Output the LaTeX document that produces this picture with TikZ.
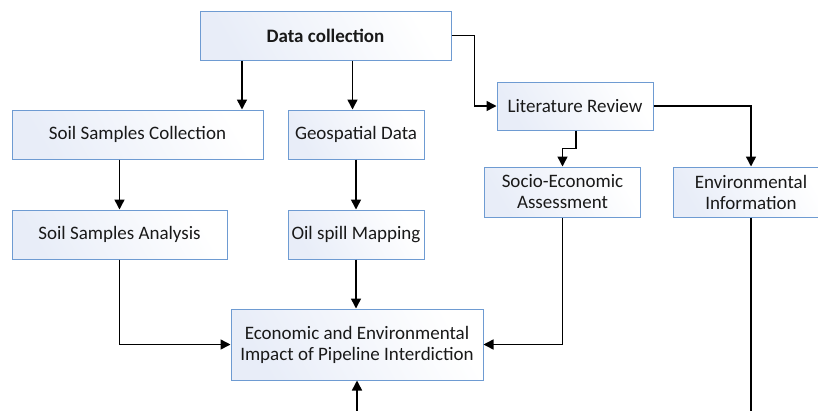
\documentclass[tikz,border=0pt]{standalone}
\usepackage{fontspec}
\setmainfont{Carlito}
\usetikzlibrary{arrows.meta,calc}
\definecolor{boxline}{RGB}{110,155,210}
\definecolor{boxfill}{RGB}{232,237,248}
\tikzset{
  box/.style={draw=boxline, line width=1pt, left color=boxfill, right color=white, shading angle=120,
    inner sep=2pt, align=center, font=\fontsize{19}{21}\selectfont, text=black!90},
  arr/.style={line width=1.5pt, -{Triangle[length=10pt,width=10pt]}},
  ln/.style={line width=1.5pt}
}
\begin{document}
\begin{tikzpicture}[x=1pt,y=-1pt]
\useasboundingbox (0,0) rectangle (818,410);
\clip (0,0) rectangle (818,410);
\node[box, minimum width=251pt, minimum height=49pt, font=\fontsize{19}{21}\selectfont\bfseries] (dc) at (325.5,35.5) {Data collection};
\node[box, minimum width=156pt, minimum height=48pt] (lr) at (575,106) {Literature Review};
\node[box, minimum width=251pt, minimum height=49pt] (ssc) at (137.5,134.5) {Soil Samples Collection};
\node[box, minimum width=136pt, minimum height=49pt] (gd) at (356,134.5) {Geospatial Data};
\node[box, minimum width=215pt, minimum height=49pt] (ssa) at (119.5,234.5) {Soil Samples Analysis};
\node[box, minimum width=136pt, minimum height=49pt] (osm) at (356,234.5) {Oil spill Mapping};
\node[box, minimum width=156pt, minimum height=50pt] (se) at (562.5,192) {Socio-Economic\\Assessment};
\node[box, minimum width=156pt, minimum height=50pt] (ei) at (751,192) {Environmental\\Information};
\node[box, minimum width=252pt, minimum height=71pt] (eco) at (357,344.5) {Economic and Environmental\\Impact of Pipeline Interdiction};
\coordinate (eibot) at (751,412);
\coordinate (ecobot) at (357,412);
% connectors
\draw[arr] ([xshift=-83.5pt]dc.south) -- ([xshift=-83.5pt]dc.south |- ssc.north);
\draw[arr] ([xshift=27pt]dc.south) -- ([xshift=27pt]dc.south |- gd.north);
\draw[arr] (dc.east) -- ++(23,0) |- (lr.west);
\draw[arr] ([xshift=1pt]lr.south) -- ++(0,18) -| (se.north);
\draw[arr] (lr.east) -| (ei.north);
\draw[arr] (ssc.south -| ssa.north) -- (ssa.north);
\draw[arr] (gd.south) -- (osm.north);
\draw[arr] (osm.south) -- (osm.south |- eco.north);
\draw[arr] (ssa.south) |- (eco.west);
\draw[arr] (se.south) |- (eco.east);
\draw[ln] (ei.south) -- (eibot);
\draw[arr] (ecobot) -- (eco.south);
\end{tikzpicture}
\end{document}
